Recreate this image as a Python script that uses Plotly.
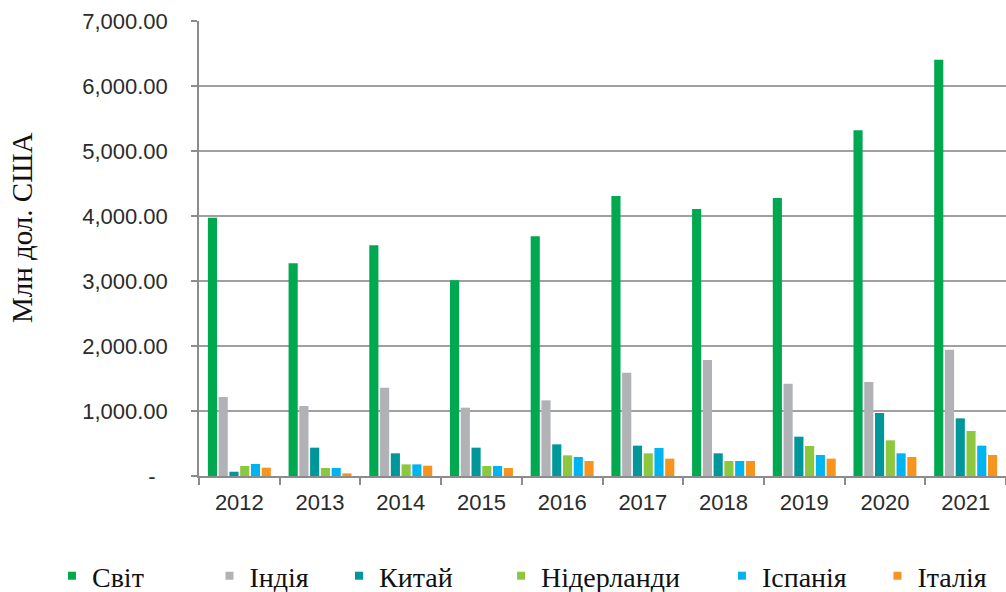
import plotly.graph_objects as go

years = ["2012", "2013", "2014", "2015", "2016", "2017", "2018", "2019", "2020", "2021"]

world = [3975, 3272, 3549, 3010, 3687, 4308, 4108, 4277, 5318, 6405]
india = [1215, 1077, 1359, 1051, 1164, 1589, 1785, 1420, 1446, 1943]
china = [66, 436, 349, 436, 487, 467, 349, 605, 969, 887]
netherlands = [154, 123, 179, 154, 318, 349, 231, 462, 549, 692]
spain = [185, 123, 179, 154, 292, 431, 231, 323, 349, 467]
italy = [128, 41, 159, 123, 231, 267, 231, 267, 292, 323]

series_names = ["Світ", "Індія", "Китай", "Нідерланди", "Іспанія", "Італія"]
series_values = [world, india, china, netherlands, spain, italy]
series_colors = ["#00A84F", "#B1B2B6", "#00979A", "#8DC63F", "#00B4F0", "#F7941D"]

y_tick_values = [0, 1000, 2000, 3000, 4000, 5000, 6000, 7000]
y_tick_labels = ["-\u00a0\u00a0", "1,000.00", "2,000.00", "3,000.00", "4,000.00",
                 "5,000.00", "6,000.00", "7,000.00"]

# legend placement (paper x of each legend box's left edge)
legend_x = [-0.1822, 0.0130, 0.1735, 0.3743, 0.6480, 0.8407]

SERIF = "Liberation Serif, Times New Roman, serif"

fig = go.Figure()

for name, vals, col in zip(series_names, series_values, series_colors):
    fig.add_trace(go.Bar(x=years, y=vals, name=name, marker=dict(color=col, line=dict(width=0)),
                         showlegend=False))

for i, (name, col) in enumerate(zip(series_names, series_colors)):
    lg = "legend" if i == 0 else f"legend{i+1}"
    fig.add_trace(go.Scatter(x=[None], y=[None], mode="markers", name=name,
                             marker=dict(symbol="square", size=8, color=col),
                             showlegend=True, legend=lg))

layout_legends = {}
for i, lx in enumerate(legend_x):
    key = "legend" if i == 0 else f"legend{i+1}"
    layout_legends[key] = dict(orientation="h", yanchor="middle", y=-0.2198,
                               xanchor="left", x=lx,
                               bgcolor="rgba(0,0,0,0)", borderwidth=0,
                               font=dict(family=SERIF, size=28, color="#111111"),
                               itemwidth=30)

fig.update_layout(
    width=1006, height=592,
    margin=dict(l=199, r=0, t=21, b=116, pad=0, autoexpand=False),
    paper_bgcolor="white", plot_bgcolor="white",
    barmode="group", bargap=0.2, bargroupgap=0.15,
    font=dict(family="Liberation Sans", size=22, color="#333333"),
    showlegend=True,
    **layout_legends,
)

fig.update_xaxes(
    type="category", tickson="boundaries", ticks="outside", ticklen=7, tickcolor="#8c8c8c",
    tickwidth=1.5, showline=True, linecolor="#8c8c8c", linewidth=1.5, showgrid=False,
    tickfont=dict(family="Liberation Sans", size=22, color="#2b2b2b"), ticklabelstandoff=6,
)

fig.update_yaxes(
    range=[0, 7000], tickvals=y_tick_values, ticktext=y_tick_labels,
    ticks="outside", ticklen=6, tickcolor="#8c8c8c", tickwidth=1.5,
    showline=True, linecolor="#8c8c8c", linewidth=1.5,
    showgrid=True, gridcolor="#a0a0a0", gridwidth=1.5, zeroline=False,
    tickfont=dict(family="Liberation Sans", size=22, color="#2b2b2b"), ticklabelstandoff=19,
)

fig.add_annotation(
    text="Млн дол. США", xref="paper", yref="paper", x=-0.2193, y=0.545,
    xanchor="center", yanchor="middle", textangle=-90, showarrow=False,
    font=dict(family=SERIF, size=29, color="#111111"),
)

fig.write_html(
    "out.html",
    config={"displayModeBar": False},
    post_script="document.body.style.margin='0';document.body.style.overflow='hidden';",
)
